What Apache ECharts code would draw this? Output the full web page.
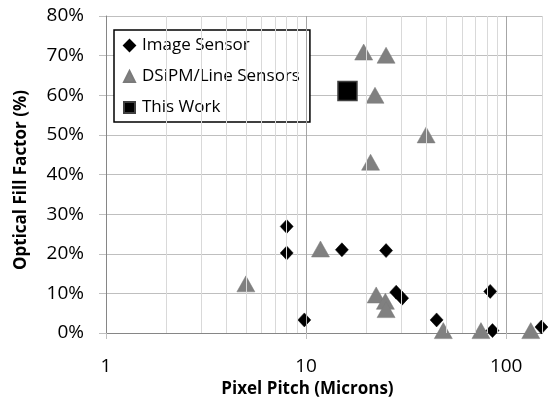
<!DOCTYPE html>
<html>
<head>
<meta charset="utf-8">
<script src="https://cdn.jsdelivr.net/npm/echarts@6/dist/echarts.min.js"></script>
<style>html,body{margin:0;padding:0;background:#fff}#c{width:555px;height:407px}</style>
</head>
<body>
<div id="c"></div>
<script>
// ---- data ----
const imageSensorX = [8.0, 8.0, 9.8, 15.1, 25.1, 28.2, 30.2, 44.9, 83.2, 85.4, 150];
const imageSensorY = [26.9, 20.2, 3.3, 21.0, 20.8, 10.3, 8.8, 3.3, 10.5, 0.6, 1.5];
const dsipmX = [5.0, 11.8, 19.4, 21.0, 22.1, 22.4, 24.9, 25.1, 25.1, 39.8, 48.5, 74.8, 132.7];
const dsipmY = [12.4, 21.2, 70.9, 43.1, 60.0, 9.6, 8.0, 70.1, 5.9, 50.0, 0.6, 0.6, 0.6];
const thisWorkX = [16.1];
const thisWorkY = [61.1];
const seriesNames = ['Image Sensor', 'DSiPM/Line Sensors', 'This Work'];
const xTickLabels = [1, 10, 100];
const majorGridX = [10, 100];
const minorGridX = [2, 3, 4, 5, 6, 7, 8, 9, 20, 30, 40, 50, 60, 70, 80, 90];
const xMin = 1, xMax = 151;
const yMin = 0, yMax = 80, yStep = 10;

const zip = (xs, ys) => xs.map((x, i) => [x, ys[i]]);
const FONT = '"Open Sans", "Noto Sans", sans-serif';

const chart = echarts.init(document.getElementById('c'), null, {renderer: 'canvas'});
chart.setOption({
  animation: false,
  backgroundColor: '#ffffff',
  grid: {left: 106, right: 13, top: 16, bottom: 74, containLabel: false},
  xAxis: {
    type: 'log', logBase: 10, min: xMin, max: xMax,
    name: 'Pixel Pitch (Microns)', nameLocation: 'middle', nameGap: 48,
    nameTextStyle: {fontFamily: FONT, fontWeight: 'bold', fontSize: 17, color: '#000', padding: [0, 33, 0, 0]},
    axisLine: {show: true, lineStyle: {color: '#868686', width: 1}},
    axisTick: {show: true, length: 6, inside: false, lineStyle: {color: '#bfbfbf'}},
    axisLabel: {
      fontFamily: FONT, fontSize: 19, color: '#000', margin: 24, showMaxLabel: false,
      formatter: v => xTickLabels.indexOf(Math.round(v)) >= 0 ? String(Math.round(v)) : ''
    },
    splitLine: {show: false}
  },
  yAxis: {
    type: 'value', min: yMin, max: yMax, interval: yStep,
    name: 'Optical Fill Factor (%)', nameLocation: 'middle', nameGap: 76,
    nameTextStyle: {fontFamily: FONT, fontWeight: 'bold', fontSize: 17, color: '#000', padding: [0, 11, 0, 0]},
    axisLine: {show: true, lineStyle: {color: '#868686', width: 1}},
    axisTick: {show: true, length: 7, lineStyle: {color: '#bfbfbf'}},
    axisLabel: {fontFamily: FONT, fontSize: 19, color: '#000', margin: 22, formatter: '{value}%'},
    splitLine: {show: true, lineStyle: {color: '#bfbfbf', width: 1}}
  },
  legend: {
    orient: 'vertical', left: 114, top: 30,
    data: seriesNames,
    backgroundColor: '#ffffff', borderColor: '#000000', borderWidth: 1.5,
    padding: [7, 10, 6, 9], itemGap: 14, itemWidth: 11, itemHeight: 11,
    textStyle: {fontFamily: FONT, fontSize: 17, color: '#000', lineHeight: 17, padding: [0, 0, 0, 2]}
  },
  series: [
    {
      name: 'grid-lines', type: 'scatter', data: [], silent: true, z: 0,
      markLine: {
        silent: true, symbol: 'none', animation: false,
        label: {show: false},
        data: minorGridX.map(v => ({xAxis: v, lineStyle: {color: '#d9d9d9', width: 1, type: 'solid'}}))
          .concat(majorGridX.map(v => ({xAxis: v, lineStyle: {color: '#a6a6a6', width: 1, type: 'solid'}})))
          .concat([{xAxis: xMax, lineStyle: {color: '#d9d9d9', width: 1, type: 'solid'}}])
      }
    },
    {
      name: seriesNames[0], type: 'scatter', z: 3,
      symbol: 'diamond', symbolSize: [13, 14],
      itemStyle: {color: '#000000', borderColor: '#000000', borderWidth: 0.5, opacity: 1},
      data: zip(imageSensorX, imageSensorY)
    },
    {
      name: seriesNames[1], type: 'scatter', z: 2,
      symbol: 'triangle', symbolSize: [18, 16],
      itemStyle: {color: '#808080', borderColor: '#7a7a7a', borderWidth: 0.5, opacity: 1},
      data: zip(dsipmX, dsipmY)
    },
    {
      name: seriesNames[2], type: 'scatter', z: 4,
      symbol: 'rect', symbolSize: 19,
      itemStyle: {color: '#000000', borderColor: '#404040', borderWidth: 1.5, opacity: 1},
      data: zip(thisWorkX, thisWorkY)
    }
  ]
});
</script>
</body>
</html>
